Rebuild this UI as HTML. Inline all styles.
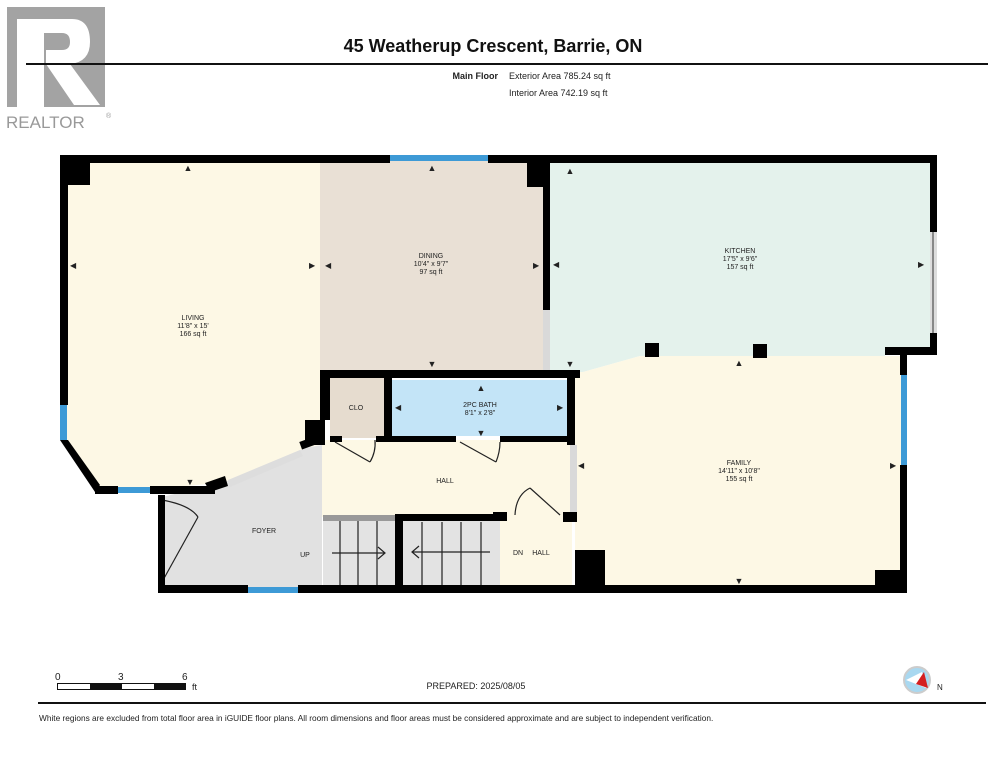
<!DOCTYPE html>
<html><head><meta charset="utf-8"><style>
body{margin:0;background:#fff;width:995px;height:768px;overflow:hidden}
svg{display:block}
text{font-family:"Liberation Sans",sans-serif;fill:#222}
</style></head><body>
<svg width="995" height="768" viewBox="0 0 995 768" xmlns="http://www.w3.org/2000/svg">
<!-- logo -->
<rect x="7" y="7" width="98" height="100" fill="#a3a3a3"/>
<rect x="17" y="19" width="27" height="88" fill="#fff"/>
<path d="M44 19 H72 Q90 19 90 42 Q90 62 70 64 L100 105 H74 L46 64 V50 H62 Q70 50 70 42 Q70 33 62 33 H44 Z" fill="#fff"/>
<text x="6" y="128" font-size="17" style="fill:#999">REALTOR</text>
<text x="106" y="118" font-size="7" style="fill:#999">®</text>
<!-- header -->
<text x="493" y="52" font-size="18" font-weight="bold" text-anchor="middle" style="fill:#111">45 Weatherup Crescent, Barrie, ON</text>
<rect x="26" y="63" width="962" height="2" fill="#111"/>
<text x="498" y="79" font-size="9" font-weight="bold" text-anchor="end">Main Floor</text>
<text x="509" y="79" font-size="9">Exterior Area 785.24 sq ft</text>
<text x="509" y="96" font-size="9">Interior Area 742.19 sq ft</text>

<!-- floors -->
<polygon points="64,160 320,160 320,445 305,448 225,482 150,490 97,490 64,440" fill="#fdf8e5"/>
<rect x="320" y="160" width="225" height="212" fill="#e9e0d5"/>
<polygon points="548,160 933,160 933,352 885,352 885,356 640,356 583,372 548,372" fill="#e4f2ec"/>
<polygon points="583,372 640,356 904,356 904,590 575,590 575,372" fill="#fdf8e5"/>
<polygon points="162,497 225,482 305,448 322,445 322,590 162,590" fill="#e1e1e1"/>
<rect x="322" y="440" width="252" height="77" fill="#fdf8e5"/>
<rect x="500" y="517" width="72" height="70" fill="#fdf8e5"/>
<rect x="330" y="378" width="56" height="60" fill="#e6dccf"/>
<rect x="392" y="380" width="175" height="56" fill="#c3e4f7"/>
<!-- stairs -->
<rect x="323" y="516" width="72" height="70" fill="#e3e3e3"/>
<rect x="323" y="515" width="72" height="6" fill="#999"/>
<rect x="403" y="520" width="97" height="66" fill="#e3e3e3"/>
<g stroke="#222" stroke-width="1.2" fill="none">
<line x1="340" y1="521" x2="340" y2="586"/><line x1="358" y1="521" x2="358" y2="586"/><line x1="377" y1="521" x2="377" y2="586"/>
<line x1="422" y1="522" x2="422" y2="586"/><line x1="442" y1="522" x2="442" y2="586"/><line x1="461" y1="522" x2="461" y2="586"/><line x1="481" y1="522" x2="481" y2="586"/>
<line x1="332" y1="553" x2="384" y2="553"/><polyline points="378,547 385,553 378,559"/>
<line x1="412" y1="552" x2="490" y2="552"/><polyline points="419,546 412,552 419,558"/>
<!-- doors -->
<line x1="335" y1="442" x2="370" y2="462"/><path d="M370 462 Q376 452 375 440"/>
<line x1="460" y1="442" x2="496" y2="462"/><path d="M496 462 Q500 452 500 442"/>
<line x1="530" y1="488" x2="560" y2="515"/><path d="M515 515 Q516 495 530 488"/>
<line x1="162" y1="582" x2="198" y2="517"/><path d="M162 500 Q190 505 198 517"/>
</g>
<!-- light gray openings -->
<rect x="543" y="310" width="7" height="62" fill="#d9d9d9"/>
<rect x="570" y="445" width="7" height="70" fill="#d9d9d9"/>
<rect x="930" y="232" width="7" height="101" fill="#ddd"/>
<line x1="933" y1="232" x2="933" y2="333" stroke="#333" stroke-width="1"/>
<polygon points="228,480 300,450 303,456 230,487" fill="#ddd"/>
<!-- walls -->
<g fill="#000">
<rect x="60" y="155" width="330" height="8"/>
<rect x="488" y="155" width="449" height="8"/>
<rect x="60" y="155" width="8" height="250"/>
<rect x="60" y="155" width="30" height="30"/>
<rect x="527" y="155" width="23" height="32"/>
<rect x="543" y="155" width="7" height="155"/>
<rect x="930" y="155" width="7" height="77"/>
<rect x="930" y="333" width="7" height="22"/>
<rect x="885" y="347" width="52" height="8"/>
<rect x="900" y="347" width="7" height="28"/>
<rect x="900" y="465" width="7" height="128"/>
<rect x="875" y="570" width="32" height="23"/>
<rect x="575" y="550" width="30" height="43"/>
<rect x="575" y="585" width="332" height="8"/>
<rect x="158" y="585" width="90" height="8"/>
<rect x="298" y="585" width="307" height="8"/>
<rect x="158" y="495" width="7" height="98"/>
<rect x="320" y="370" width="260" height="8"/>
<rect x="320" y="370" width="10" height="50"/>
<rect x="305" y="420" width="20" height="25"/>
<rect x="384" y="378" width="8" height="60"/>
<rect x="567" y="370" width="8" height="75"/>
<rect x="330" y="436" width="12" height="6"/>
<rect x="376" y="436" width="80" height="6"/>
<rect x="500" y="436" width="75" height="6"/>
<rect x="395" y="514" width="8" height="76"/>
<rect x="395" y="514" width="105" height="7"/>
<rect x="493" y="512" width="14" height="9"/>
<rect x="563" y="512" width="14" height="10"/>
<rect x="150" y="486" width="65" height="8"/>
<rect x="95" y="486" width="23" height="8"/>
<rect x="645" y="343" width="14" height="14"/>
<rect x="753" y="344" width="14" height="14"/>
</g>
<polygon points="60,440 68,440 100,485 95,492" fill="#000"/>
<polygon points="205,483 225,476 228,486 210,492" fill="#000"/>
<rect x="300" y="438" width="22" height="8" fill="#000" transform="rotate(-20 311 442)"/>
<!-- windows -->
<g fill="#3d9ad6">
<rect x="390" y="155" width="98" height="6"/>
<rect x="60" y="405" width="7" height="35"/>
<rect x="118" y="487" width="32" height="6"/>
<rect x="248" y="587" width="50" height="6"/>
<rect x="901" y="375" width="6" height="90"/>
</g>
<!-- arrows -->
<g fill="#111" font-size="9">
<text x="188" y="171" text-anchor="middle">▲</text>
<text x="432" y="171" text-anchor="middle">▲</text>
<text x="570" y="174" text-anchor="middle">▲</text>
<text x="432" y="367" text-anchor="middle">▼</text>
<text x="570" y="367" text-anchor="middle">▼</text>
<text x="739" y="366" text-anchor="middle">▲</text>
<text x="739" y="584" text-anchor="middle">▼</text>
<text x="481" y="391" text-anchor="middle">▲</text>
<text x="481" y="436" text-anchor="middle">▼</text>
<text x="190" y="485" text-anchor="middle">▼</text>
</g>
<g fill="#111" font-size="8">
<text x="70" y="268">◀</text><text x="309" y="268">▶</text>
<text x="325" y="268">◀</text><text x="533" y="268">▶</text>
<text x="553" y="267">◀</text><text x="918" y="267">▶</text>
<text x="395" y="410">◀</text><text x="557" y="410">▶</text>
<text x="578" y="468">◀</text><text x="890" y="468">▶</text>
</g>
<!-- labels -->
<g font-size="7" text-anchor="middle">
<text x="193" y="320">LIVING</text><text x="193" y="328">11'8" x 15'</text><text x="193" y="336">166 sq ft</text>
<text x="431" y="258">DINING</text><text x="431" y="266">10'4" x 9'7"</text><text x="431" y="274">97 sq ft</text>
<text x="740" y="253">KITCHEN</text><text x="740" y="261">17'5" x 9'6"</text><text x="740" y="269">157 sq ft</text>
<text x="739" y="465">FAMILY</text><text x="739" y="473">14'11" x 10'8"</text><text x="739" y="481">155 sq ft</text>
<text x="480" y="407">2PC BATH</text><text x="480" y="415">8'1" x 2'8"</text>
<text x="356" y="410">CLO</text>
<text x="445" y="483">HALL</text>
<text x="264" y="533">FOYER</text>
<text x="305" y="557">UP</text>
<text x="518" y="555">DN</text>
<text x="541" y="555">HALL</text>
</g>
<!-- footer -->
<text x="55" y="680" font-size="10">0</text>
<text x="118" y="680" font-size="10">3</text>
<text x="182" y="680" font-size="10">6</text>
<rect x="57.5" y="683.5" width="128" height="6" fill="#fff" stroke="#111"/>
<rect x="90" y="684" width="32" height="5" fill="#111"/>
<rect x="154" y="684" width="32" height="5" fill="#111"/>
<text x="192" y="690" font-size="9">ft</text>
<text x="476" y="689" font-size="9" text-anchor="middle">PREPARED: 2025/08/05</text>
<circle cx="917" cy="680" r="13" fill="#a9d8f0" stroke="#ccc" stroke-width="2"/>
<polygon points="906,680 922,672 926,688" fill="#fff"/>
<polygon points="916,684 924,672 928,688" fill="#d42020"/>
<text x="937" y="690" font-size="8">N</text>
<rect x="38" y="702" width="948" height="2" fill="#111"/>
<text x="39" y="721" font-size="8.3">White regions are excluded from total floor area in iGUIDE floor plans. All room dimensions and floor areas must be considered approximate and are subject to independent verification.</text>
</svg>
</body></html>
